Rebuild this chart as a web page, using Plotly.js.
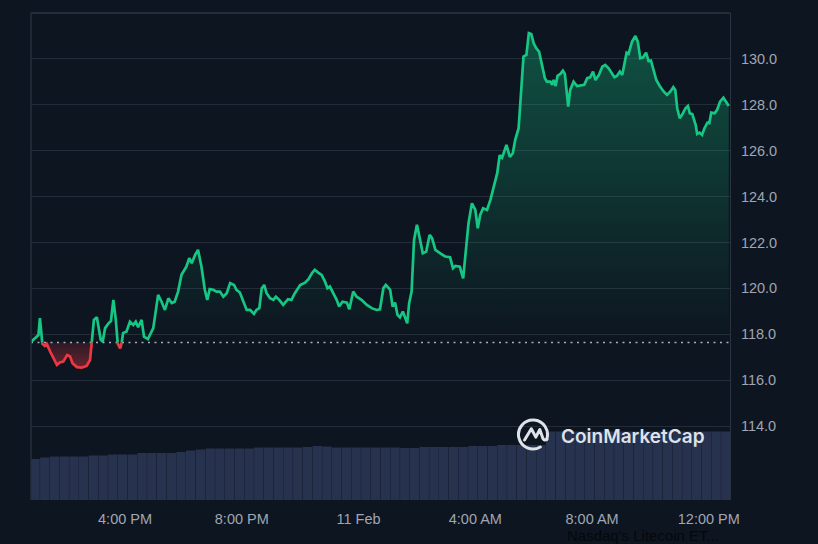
<!DOCTYPE html>
<html><head><meta charset="utf-8">
<script src="https://cdn.plot.ly/plotly-3.0.1.min.js"></script>
<style>html,body{margin:0;padding:0;background:#0d1520;overflow:hidden}#chart{width:818px;height:544px}</style>
</head><body><div id="chart"></div>
<script>
// ---- data ----
const times = [
'2025-02-10 12:47','2025-02-10 12:58','2025-02-10 13:02','2025-02-10 13:05','2025-02-10 13:10','2025-02-10 13:15','2025-02-10 13:19','2025-02-10 13:26','2025-02-10 13:32','2025-02-10 13:40',
'2025-02-10 13:46','2025-02-10 13:53','2025-02-10 14:01','2025-02-10 14:07','2025-02-10 14:12','2025-02-10 14:21','2025-02-10 14:31','2025-02-10 14:41','2025-02-10 14:48','2025-02-10 14:51',
'2025-02-10 14:56','2025-02-10 15:02','2025-02-10 15:10','2025-02-10 15:14','2025-02-10 15:19','2025-02-10 15:26','2025-02-10 15:31','2025-02-10 15:36','2025-02-10 15:41','2025-02-10 15:45',
'2025-02-10 15:50','2025-02-10 15:53','2025-02-10 15:56','2025-02-10 16:03','2025-02-10 16:10','2025-02-10 16:17','2025-02-10 16:22','2025-02-10 16:27','2025-02-10 16:34','2025-02-10 16:39',
'2025-02-10 16:47','2025-02-10 16:58','2025-02-10 17:08','2025-02-10 17:15','2025-02-10 17:22','2025-02-10 17:29','2025-02-10 17:36','2025-02-10 17:42','2025-02-10 17:49','2025-02-10 17:56',
'2025-02-10 18:06','2025-02-10 18:12','2025-02-10 18:17','2025-02-10 18:24','2025-02-10 18:30','2025-02-10 18:37','2025-02-10 18:44','2025-02-10 18:49','2025-02-10 18:54','2025-02-10 19:01',
'2025-02-10 19:08','2025-02-10 19:15','2025-02-10 19:22','2025-02-10 19:29','2025-02-10 19:36','2025-02-10 19:44','2025-02-10 19:49','2025-02-10 19:56','2025-02-10 20:03','2025-02-10 20:10',
'2025-02-10 20:17','2025-02-10 20:25','2025-02-10 20:30','2025-02-10 20:36','2025-02-10 20:41','2025-02-10 20:46','2025-02-10 20:51','2025-02-10 20:58','2025-02-10 21:05','2025-02-10 21:10',
'2025-02-10 21:17','2025-02-10 21:25','2025-02-10 21:35','2025-02-10 21:42','2025-02-10 21:49','2025-02-10 22:00','2025-02-10 22:10','2025-02-10 22:17','2025-02-10 22:24','2025-02-10 22:30',
'2025-02-10 22:37','2025-02-10 22:44','2025-02-10 22:51','2025-02-10 22:56','2025-02-10 23:01','2025-02-10 23:08','2025-02-10 23:15','2025-02-10 23:20','2025-02-10 23:27','2025-02-10 23:36',
'2025-02-10 23:41','2025-02-10 23:49','2025-02-10 23:56','2025-02-11 00:06','2025-02-11 00:17','2025-02-11 00:27','2025-02-11 00:37','2025-02-11 00:44','2025-02-11 00:51','2025-02-11 00:56',
'2025-02-11 01:05','2025-02-11 01:10','2025-02-11 01:15','2025-02-11 01:20','2025-02-11 01:25','2025-02-11 01:31','2025-02-11 01:36','2025-02-11 01:40','2025-02-11 01:44','2025-02-11 01:49',
'2025-02-11 01:54','2025-02-11 02:00','2025-02-11 02:05','2025-02-11 02:12','2025-02-11 02:19','2025-02-11 02:26','2025-02-11 02:31','2025-02-11 02:38','2025-02-11 02:48','2025-02-11 02:58',
'2025-02-11 03:08','2025-02-11 03:14','2025-02-11 03:19','2025-02-11 03:28','2025-02-11 03:35','2025-02-11 03:39','2025-02-11 03:46','2025-02-11 03:53','2025-02-11 04:00','2025-02-11 04:05',
'2025-02-11 04:10','2025-02-11 04:16','2025-02-11 04:24','2025-02-11 04:31','2025-02-11 04:38','2025-02-11 04:45','2025-02-11 04:50','2025-02-11 04:55','2025-02-11 05:04','2025-02-11 05:11',
'2025-02-11 05:17','2025-02-11 05:22','2025-02-11 05:29','2025-02-11 05:32','2025-02-11 05:36','2025-02-11 05:39','2025-02-11 05:45','2025-02-11 05:50','2025-02-11 05:55','2025-02-11 06:00',
'2025-02-11 06:05','2025-02-11 06:11','2025-02-11 06:17','2025-02-11 06:23','2025-02-11 06:27','2025-02-11 06:34','2025-02-11 06:38','2025-02-11 06:41','2025-02-11 06:45','2025-02-11 06:49',
'2025-02-11 06:55','2025-02-11 07:00','2025-02-11 07:04','2025-02-11 07:09','2025-02-11 07:11','2025-02-11 07:15','2025-02-11 07:22','2025-02-11 07:29','2025-02-11 07:39','2025-02-11 07:44',
'2025-02-11 07:50','2025-02-11 07:56','2025-02-11 08:02','2025-02-11 08:07','2025-02-11 08:14','2025-02-11 08:21','2025-02-11 08:27','2025-02-11 08:34','2025-02-11 08:40','2025-02-11 08:46',
'2025-02-11 08:51','2025-02-11 08:57','2025-02-11 09:02','2025-02-11 09:06','2025-02-11 09:11','2025-02-11 09:15','2025-02-11 09:22','2025-02-11 09:29','2025-02-11 09:34','2025-02-11 09:39',
'2025-02-11 09:45','2025-02-11 09:51','2025-02-11 09:56','2025-02-11 10:01','2025-02-11 10:07','2025-02-11 10:12','2025-02-11 10:19','2025-02-11 10:27','2025-02-11 10:34','2025-02-11 10:41',
'2025-02-11 10:47','2025-02-11 10:51','2025-02-11 10:55','2025-02-11 11:00','2025-02-11 11:05','2025-02-11 11:12','2025-02-11 11:17','2025-02-11 11:21','2025-02-11 11:26','2025-02-11 11:33',
'2025-02-11 11:36','2025-02-11 11:41','2025-02-11 11:46','2025-02-11 11:51','2025-02-11 11:57','2025-02-11 12:01','2025-02-11 12:05','2025-02-11 12:12','2025-02-11 12:17','2025-02-11 12:23',
'2025-02-11 12:30','2025-02-11 12:34','2025-02-11 12:41'
];
const prices = [
117.68,117.90,117.97,118.71,117.58,117.49,117.58,117.25,117.03,116.67,
116.77,116.81,117.10,117.03,116.74,116.57,116.55,116.62,116.88,117.54,
118.63,118.74,117.76,117.68,118.27,118.48,118.58,119.50,118.63,117.58,
117.39,117.62,118.05,118.12,118.55,118.41,118.55,118.31,118.63,117.90,
117.79,118.27,119.72,119.42,119.06,119.57,119.36,119.42,119.86,120.59,
120.95,121.32,121.10,121.46,121.68,120.95,119.93,119.50,119.97,119.94,
119.86,119.86,119.64,119.79,120.23,120.15,119.94,119.82,119.42,119.06,
119.06,118.89,119.06,119.14,120.01,120.15,119.79,119.57,119.50,119.64,
119.50,119.28,119.53,119.50,119.79,120.15,120.25,120.40,120.66,120.81,
120.69,120.59,120.30,120.01,120.08,119.79,119.50,119.21,119.42,119.38,
119.09,119.86,119.64,119.50,119.28,119.14,119.06,119.09,120.01,120.15,
119.94,119.21,119.38,118.85,118.74,118.99,118.70,118.48,119.36,119.86,
122.11,122.77,122.26,121.53,121.60,122.33,122.19,121.68,121.53,121.39,
121.36,120.88,120.98,120.95,120.44,121.24,122.84,123.71,123.42,122.62,
123.20,123.49,123.42,123.86,124.44,125.02,125.80,125.69,126.25,125.73,
125.89,126.47,126.98,127.92,129.38,130.10,130.17,131.12,131.08,130.68,
130.47,130.32,129.74,129.16,129.01,129.01,128.87,129.08,128.82,129.26,
129.35,129.49,129.35,128.36,127.92,128.65,129.01,128.82,128.87,128.87,
129.16,129.20,129.45,129.08,129.30,129.66,129.74,129.59,129.40,129.20,
129.26,129.45,129.30,129.81,130.27,130.22,130.75,131.00,130.75,130.03,
130.07,130.27,129.91,129.93,129.52,129.08,128.82,128.58,128.43,128.58,
128.77,128.65,127.85,127.42,127.56,127.85,127.95,127.63,127.60,127.12,
126.73,126.79,126.69,126.98,127.22,127.20,127.66,127.63,127.78,128.14,
128.31,128.18,127.95
];
const basePrice = 117.64;

const volumeTimes = [
'2025-02-10 12:55','2025-02-10 13:15','2025-02-10 13:35','2025-02-10 13:55','2025-02-10 14:15','2025-02-10 14:35','2025-02-10 14:55','2025-02-10 15:15','2025-02-10 15:35','2025-02-10 15:55',
'2025-02-10 16:15','2025-02-10 16:35','2025-02-10 16:55','2025-02-10 17:15','2025-02-10 17:35','2025-02-10 17:55','2025-02-10 18:15','2025-02-10 18:35','2025-02-10 18:55','2025-02-10 19:15',
'2025-02-10 19:35','2025-02-10 19:55','2025-02-10 20:15','2025-02-10 20:35','2025-02-10 20:55','2025-02-10 21:15','2025-02-10 21:35','2025-02-10 21:55','2025-02-10 22:15','2025-02-10 22:35',
'2025-02-10 22:55','2025-02-10 23:15','2025-02-10 23:35','2025-02-10 23:55','2025-02-11 00:15','2025-02-11 00:35','2025-02-11 00:55','2025-02-11 01:15','2025-02-11 01:35','2025-02-11 01:55',
'2025-02-11 02:15','2025-02-11 02:35','2025-02-11 02:55','2025-02-11 03:15','2025-02-11 03:35','2025-02-11 03:55','2025-02-11 04:15','2025-02-11 04:35','2025-02-11 04:55','2025-02-11 05:15',
'2025-02-11 05:35','2025-02-11 05:55','2025-02-11 06:15','2025-02-11 06:35','2025-02-11 06:55','2025-02-11 07:15','2025-02-11 07:35','2025-02-11 07:55','2025-02-11 08:15','2025-02-11 08:35',
'2025-02-11 08:55','2025-02-11 09:15','2025-02-11 09:35','2025-02-11 09:55','2025-02-11 10:15','2025-02-11 10:35','2025-02-11 10:55','2025-02-11 11:15','2025-02-11 11:35','2025-02-11 11:55',
'2025-02-11 12:15','2025-02-11 12:35'
];
const volumes = [
8.42,8.73,8.93,8.93,8.93,8.93,9.14,9.14,9.34,9.34,
9.34,9.65,9.65,9.65,9.65,9.86,10.16,10.37,10.57,10.57,
10.57,10.57,10.57,10.78,10.78,10.78,10.78,10.78,10.88,11.09,
10.99,10.78,10.78,10.78,10.78,10.78,10.78,10.78,10.68,10.68,
10.88,10.88,10.88,10.88,10.88,11.09,11.09,11.09,11.29,11.29,
11.29,11.29,11.29,14.07,14.07,14.07,14.07,14.07,14.07,14.07,
14.07,14.07,14.07,14.07,14.07,14.07,14.07,14.07,14.07,14.07,
14.07,14.07
];

const xTickVals = ['2025-02-10 16:00','2025-02-10 20:00','2025-02-11 00:00','2025-02-11 04:00','2025-02-11 08:00','2025-02-11 12:00'];
const xTickText = ['4:00 PM','8:00 PM','11 Feb','4:00 AM','8:00 AM','12:00 PM'];
const yTickVals = [114,116,118,120,122,124,126,128,130];
const yTickText = ['114.0','116.0','118.0','120.0','122.0','124.0','126.0','128.0','130.0'];
const xRange = ['2025-02-10 12:46:40','2025-02-11 12:43:30'];
const yRange = [110.78,132];

// ---- build traces ----
function parseT(s){
  const [d,t]=s.split(' ');
  const [Y,M,D]=d.split('-').map(Number);
  const tp=t.split(':').map(Number);
  return Date.UTC(Y,M-1,D,tp[0],tp[1],tp[2]||0);
}
const tx = times.map(parseT);
const augX=[], augY=[];
for(let i=0;i<tx.length;i++){
  if(i>0){
    const y0=prices[i-1], y1=prices[i];
    if((y0-basePrice)*(y1-basePrice)<0){
      const f=(basePrice-y0)/(y1-y0);
      augX.push(tx[i-1]+f*(tx[i]-tx[i-1])); augY.push(basePrice);
    }
  }
  augX.push(tx[i]); augY.push(prices[i]);
}
const upY = augY.map(v=>Math.max(v,basePrice));
const dnY = augY.map(v=>Math.min(v,basePrice));
const greenY = augY.map(v=>v>=basePrice?v:null);
const redY = augY.map(v=>v<=basePrice?v:null);
const baseY = augX.map(()=>basePrice);
const GREEN='#16c784', RED='#ea3943';

const traces = [
  {x:augX,y:baseY,mode:'lines',line:{width:0,color:'rgba(0,0,0,0)'},hoverinfo:'skip'},
  {x:augX,y:upY,mode:'lines',line:{width:0,color:'rgba(0,0,0,0)'},fill:'tonexty',
   fillgradient:{type:'vertical',start:basePrice,stop:131.3,colorscale:[[0,'rgba(22,199,132,0)'],[1,'rgba(22,199,132,0.34)']]},hoverinfo:'skip'},
  {x:augX,y:baseY,mode:'lines',line:{width:0,color:'rgba(0,0,0,0)'},hoverinfo:'skip'},
  {x:augX,y:dnY,mode:'lines',line:{width:0,color:'rgba(0,0,0,0)'},fill:'tonexty',
   fillgradient:{type:'vertical',start:116.5,stop:basePrice,colorscale:[[0,'rgba(234,57,67,0.42)'],[1,'rgba(234,57,67,0.14)']]},hoverinfo:'skip'},
  {type:'bar',x:volumeTimes.map(parseT),y:volumes,yaxis:'y2',width:1200000*0.97,marker:{color:'#27324f',line:{width:0}},hoverinfo:'skip'},
  {x:[parseT(xRange[0]),parseT(xRange[1])],y:[basePrice,basePrice],mode:'lines',line:{color:'#a9aebb',width:1.5,dash:'2px,4.5px'},hoverinfo:'skip'},
  {x:augX,y:greenY,mode:'lines',line:{color:GREEN,width:2.7},connectgaps:false,hoverinfo:'skip'},
  {x:augX,y:redY,mode:'lines',line:{color:RED,width:2.7},connectgaps:false,hoverinfo:'skip'}
];

const tickFont={family:'Liberation Sans, Arial, sans-serif',size:14.5,color:'#a0a6b3'};
const logoSvg="<svg xmlns='http://www.w3.org/2000/svg' viewBox='0 0 34 34'><g fill='none' stroke='#dfe2e8' stroke-width='3' stroke-linecap='round' stroke-linejoin='round'><path d='M24.25 29.56 A14.5 14.5 0 1 1 30.6 21.96'/><path d='M8.5 22.5 L15.3 11.2 L19.8 19.6 L23.8 12 L27 21.2 Q28.6 23.6 31 21.6'/></g></svg>";

const layout = {
  width:818,height:544,
  paper_bgcolor:'#0d1520',plot_bgcolor:'#0d1520',
  margin:{l:31,r:88,t:13,b:44,pad:0},
  showlegend:false,hovermode:false,
  xaxis:{type:'date',range:xRange,tickmode:'array',tickvals:xTickVals,ticktext:xTickText,showgrid:false,zeroline:false,showline:false,ticks:'',tickfont:tickFont,ticklabelstandoff:8,fixedrange:true},
  yaxis:{side:'right',range:yRange,tickmode:'array',tickvals:yTickVals,ticktext:yTickText,gridcolor:'#252c39',gridwidth:1,zeroline:false,showline:true,linecolor:'#2b3240',linewidth:1,ticks:'',tickfont:tickFont,ticklabelstandoff:7,fixedrange:true},
  yaxis2:{overlaying:'y',range:[0,100],visible:false,fixedrange:true},
  shapes:[
    {type:'line',xref:'paper',yref:'paper',x0:0,x1:1,y0:1,y1:1,line:{color:'#2e3543',width:1.5}},
    {type:'line',xref:'paper',yref:'paper',x0:0,x1:0,y0:0,y1:1,line:{color:'#272e3b',width:1.5}}
  ],
  images:[{source:'data:image/svg+xml;charset=utf-8,'+encodeURIComponent(logoSvg),xref:'paper',yref:'paper',
    x:0.7182,y:0.1345,sizex:0.0486,sizey:0.0698,xanchor:'center',yanchor:'middle',sizing:'contain',layer:'above'}],
  annotations:[
    {text:'CoinMarketCap',xref:'paper',yref:'paper',x:0.7554,y:0.1314,xanchor:'left',yanchor:'middle',showarrow:false,
     font:{family:'Inter, Noto Sans, sans-serif',size:19,weight:600,color:'#dfe2e8'}},
    {text:"Nasdaq's Litecoin ET...",xref:'paper',yref:'paper',x:0.764,y:-0.051,xanchor:'left',yanchor:'top',showarrow:false,
     font:{family:'Liberation Sans, Arial, sans-serif',size:15,color:'#05080c'}}
  ]
};
Plotly.newPlot('chart',traces,layout,{displayModeBar:false,staticPlot:true});
</script></body></html>
